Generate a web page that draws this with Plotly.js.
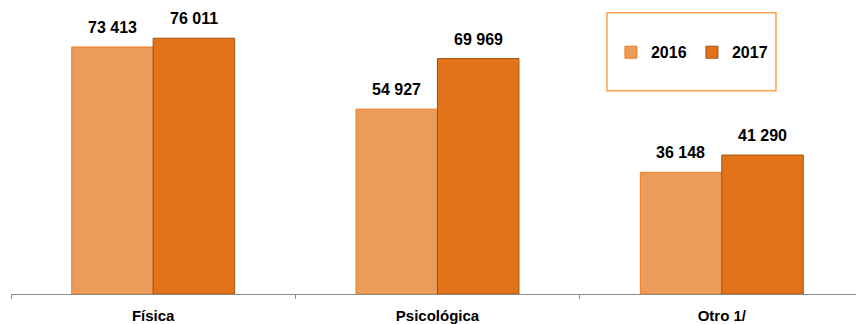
<!DOCTYPE html>
<html>
<head>
<meta charset="utf-8">
<script src="https://cdn.plot.ly/plotly-3.0.1.min.js"></script>
<style>html,body{margin:0;padding:0;background:#fff;}#chart{width:856px;height:324px;}</style>
</head>
<body>
<div id="chart"></div>
<script>
const categories = ["Física", "Psicológica", "Otro 1/"];
const values2016 = [73413, 54927, 36148];
const values2017 = [76011, 69969, 41290];
const seriesNames = ["2016", "2017"];
const valueLabels2016 = ["73 413", "54 927", "36 148"];
const valueLabels2017 = ["76 011", "69 969", "41 290"];

const FONT = "'Liberation Sans', Arial, sans-serif";
const c2016 = "#EB9C5B", e2016 = "#EE7D1E";
const c2017 = "#E37318", e2017 = "#A2520F";

const traces = [
  {type: "bar", name: seriesNames[0], x: categories, y: values2016,
   marker: {color: c2016, line: {color: e2016, width: 1}}, hoverinfo: "none"},
  {type: "bar", name: seriesNames[1], x: categories, y: values2017,
   marker: {color: c2017, line: {color: e2017, width: 1}}, hoverinfo: "none"}
];

const barShift = 41;
const annotations = [];
categories.forEach((c, i) => {
  annotations.push({x: c, y: values2016[i], xref: "x", yref: "y", text: valueLabels2016[i],
    showarrow: false, yanchor: "bottom", xshift: -barShift, yshift: 9,
    font: {family: FONT, size: 16, color: "#000", weight: "bold"}});
  annotations.push({x: c, y: values2017[i], xref: "x", yref: "y", text: valueLabels2017[i],
    showarrow: false, yanchor: "bottom", xshift: barShift, yshift: 9,
    font: {family: FONT, size: 16, color: "#000", weight: "bold"}});
});

const layout = {
  width: 856, height: 324,
  margin: {l: 11, r: 0, t: 0, b: 30},
  paper_bgcolor: "#fff", plot_bgcolor: "#fff",
  barmode: "group", bargap: 0.427, bargroupgap: 0,
  showlegend: true,
  legend: {orientation: "h", x: 0.710, xanchor: "left", y: 0.822, yanchor: "middle",
    entrywidth: 36, entrywidthmode: "pixels",
    bgcolor: "rgba(0,0,0,0)", borderwidth: 0,
    font: {family: FONT, size: 16, color: "#000", weight: "bold"}},
  xaxis: {type: "category", range: [-0.5, 2.472], fixedrange: true,
    showline: true, linecolor: "#8c8c8c", linewidth: 1,
    ticks: "outside", tickson: "boundaries", ticklen: 4, tickcolor: "#8c8c8c",
    ticklabelstandoff: 8,
    showgrid: false, zeroline: false,
    tickfont: {family: FONT, size: 15, color: "#000", weight: "bold"}},
  yaxis: {range: [0, 87370], visible: false, showgrid: false, zeroline: false, fixedrange: true},
  shapes: [{type: "rect", xref: "paper", yref: "paper",
    x0: 0.7053, x1: 0.9053, y0: 0.6915, y1: 0.9568,
    line: {color: "#F9A34F", width: 1.5}, fillcolor: "rgba(0,0,0,0)"}],
  annotations: annotations
};

Plotly.newPlot("chart", traces, layout, {displayModeBar: false, staticPlot: true});
</script>
</body>
</html>
